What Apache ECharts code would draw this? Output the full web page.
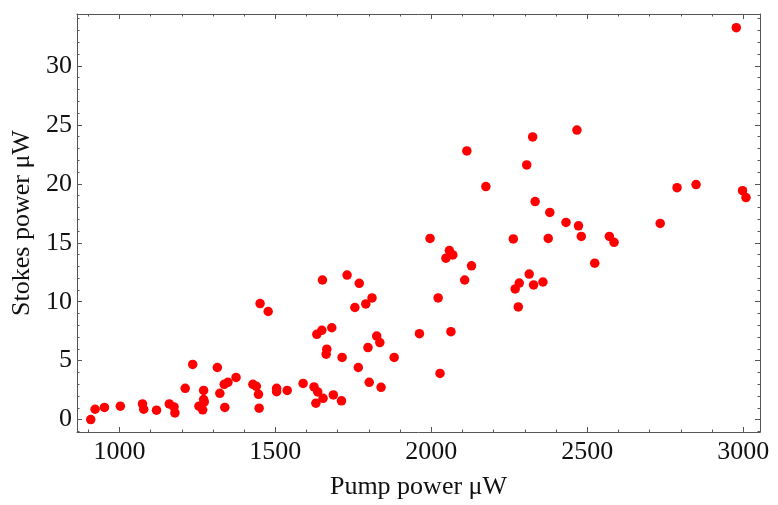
<!DOCTYPE html>
<html>
<head>
<meta charset="utf-8">
<script src="https://cdn.jsdelivr.net/npm/echarts@6/dist/echarts.min.js"></script>
<style>
html,body{margin:0;padding:0;background:#fff}
#c{width:778px;height:505px}
</style>
</head>
<body>
<div id="c"></div>
<script>
const pumpPower = [908,922,952,1003,1074,1078,1119,1160,1175,1178,1211,1235,1255,1267,1270,1272,1270,1314,1322,1336,1338,1348,1374,1428,1439,1446,1448,1451,1477,1504,1504,1538,1589,1624,1636,1630,1653,1633,1649,1651,1665,1663,1681,1686,1712,1714,1730,1755,1766,1769,1790,1797,1801,1810,1825,1835,1839,1881,1962,1996,2022,2028,2047,2058,2069,2063,2107,2114,2129,2175,2263,2269,2279,2282,2306,2314,2325,2328,2333,2358,2375,2380,2432,2467,2472,2481,2524,2571,2586,2734,2788,2849,2978,2998,3009];
const stokesPower = [0.0,0.88,1.03,1.14,1.33,0.88,0.80,1.33,1.08,0.57,2.65,4.68,1.14,0.83,1.70,1.50,2.48,4.42,2.23,2.99,1.03,3.16,3.58,2.99,2.82,2.15,0.97,9.84,9.17,2.65,2.37,2.48,3.07,2.77,2.35,1.39,1.81,7.23,7.57,11.84,5.97,5.55,7.79,2.09,1.59,5.27,12.26,9.51,4.42,11.56,9.81,6.11,3.16,10.32,7.09,6.53,2.74,5.27,7.29,15.37,10.32,3.92,13.69,14.34,13.97,7.46,11.84,22.79,13.04,19.76,15.32,11.08,9.56,11.58,21.6,12.34,23.97,11.42,18.49,11.67,15.37,17.57,16.72,24.56,16.44,15.54,13.27,15.54,15.04,16.64,19.67,19.93,33.24,19.42,18.83];
const xTickLabels = [1000,1500,2000,2500,3000];
const yTickLabels = [0,5,10,15,20,25,30];
const xTitle = 'Pump power \u03bcW';
const yTitle = 'Stokes power \u03bcW';

const X_MIN = 864, X_MAX = 3054, Y_MIN = -1.05, Y_MAX = 34.4;
const FRAME = '#555';
const FONT = 'Liberation Serif';

function mkAxis(pos, min, max, step, major, labels, name) {
  const a = {
    type: 'value', position: pos, min: min, max: max,
    minInterval: step, maxInterval: step, splitNumber: Math.round((max - min) / step),
    splitLine: {show: false},
    axisLine: {show: major, onZero: false, lineStyle: {color: FRAME, width: 1}},
    axisTick: {show: true, inside: true, length: major ? 5 : 2.5, lineStyle: {color: FRAME, width: 1}},
    axisLabel: {show: false}
  };
  if (labels) {
    a.axisLabel = {
      show: true, color: '#111', fontFamily: FONT, fontSize: 26,
      margin: pos === 'bottom' ? 7 : 5,
      formatter: v => labels.some(t => Math.abs(t - v) < 1e-6) ? String(Math.round(v)) : ''
    };
  }
  if (name) {
    a.name = name; a.nameLocation = 'middle';
    a.nameGap = pos === 'bottom' ? 42 : 42;
    a.nameTextStyle = {color: '#111', fontFamily: FONT, fontSize: 26};
  }
  return a;
}

const chart = echarts.init(document.getElementById('c'), null, {renderer: 'canvas'});
chart.setOption({
  animation: false,
  backgroundColor: '#fff',
  grid: {left: 77, right: 18, top: 14, bottom: 70, containLabel: false},
  xAxis: [
    mkAxis('bottom', X_MIN, X_MAX, 500, true, xTickLabels, xTitle),
    mkAxis('bottom', X_MIN, X_MAX, 100, false),
    mkAxis('top', X_MIN, X_MAX, 500, true),
    mkAxis('top', X_MIN, X_MAX, 100, false)
  ],
  yAxis: [
    mkAxis('left', Y_MIN, Y_MAX, 5, true, yTickLabels, yTitle),
    mkAxis('left', Y_MIN, Y_MAX, 1, false),
    mkAxis('right', Y_MIN, Y_MAX, 5, true),
    mkAxis('right', Y_MIN, Y_MAX, 1, false)
  ],
  series: [{
    type: 'scatter', xAxisIndex: 0, yAxisIndex: 0,
    symbol: 'circle', symbolSize: 9.5,
    itemStyle: {color: '#ff0000', opacity: 1},
    data: pumpPower.map((x, i) => [x, stokesPower[i]])
  }]
});
</script>
</body>
</html>
